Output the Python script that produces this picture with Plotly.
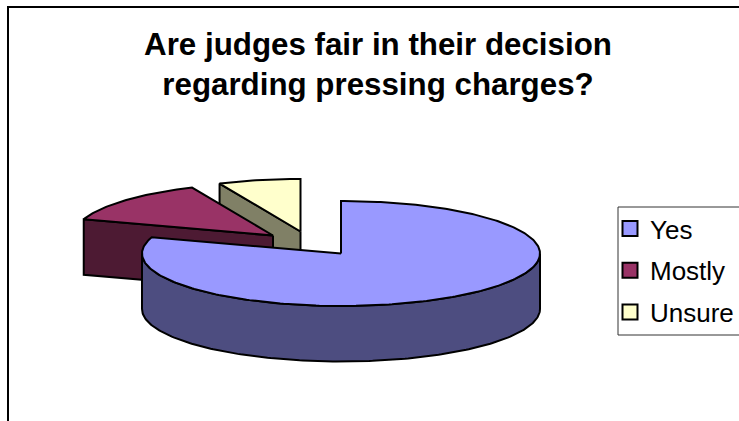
import numpy as np
import plotly.graph_objects as go

categories = ["Yes", "Mostly", "Unsure"]
values = [12, 2, 1]
title_text = "Are judges fair in their decision<br>regarding pressing charges?"

top_colors = ["#9999FF", "#993366", "#FFFFCC"]
side_colors = ["#4D4D80", "#4D1A33", "#808066"]
# wedge apex on the canvas for each exploded slice
apex = [(341, 253.5), (273, 235.5), (300.5, 231.5)]
RX, RY, DEPTH = 199, 52.5, 55.5

total = sum(values)
edges = np.cumsum([0] + values) / total * 2 * np.pi


def rim(cx, cy, t0, t1, dy=0):
    t = np.linspace(t0, t1, max(int(abs(t1 - t0) * 60), 2))
    return cx + RX * np.sin(t), cy - RY * np.cos(t) + dy


def poly(x, y, fill):
    return go.Scatter(
        x=list(x), y=list(y), mode="lines", fill="toself", fillcolor=fill,
        line=dict(color="black", width=2), hoverinfo="skip", showlegend=False,
    )


fig = go.Figure()

for i in [2, 1, 0]:
    cx, cy = apex[i]
    t0, t1 = edges[i], edges[i + 1]
    # side wall along the radial edge that closes the slice (faces the viewer)
    if i != 0:
        ex, ey = cx + RX * np.sin(t0), cy - RY * np.cos(t0)
        fig.add_trace(poly([cx, ex, ex, cx, cx], [cy, ey, ey + DEPTH, cy + DEPTH, cy], side_colors[i]))
    # outer wall for the part of the rim on the front half
    a0, a1 = max(t0, np.pi / 2), min(t1, 3 * np.pi / 2)
    if a1 > a0:
        ux, uy = rim(cx, cy, a0, a1)
        lx, ly = rim(cx, cy, a1, a0, DEPTH)
        fig.add_trace(poly(np.r_[ux, lx, ux[0]], np.r_[uy, ly, uy[0]], side_colors[i]))
    # top face
    rx, ry = rim(cx, cy, t0, t1)
    fig.add_trace(poly(np.r_[cx, rx, cx], np.r_[cy, ry, cy], top_colors[i]))

for name, color in zip(categories, top_colors):
    fig.add_trace(go.Scatter(
        x=[None], y=[None], mode="markers", name=name, legendgroup=name,
        marker=dict(symbol="square", size=15, color=color, line=dict(color="black", width=2)),
    ))

fig.update_layout(
    width=739, height=421,
    margin=dict(l=0, r=0, t=0, b=0, autoexpand=False),
    paper_bgcolor="white", plot_bgcolor="white",
    xaxis=dict(range=[0, 739], visible=False, fixedrange=True),
    yaxis=dict(range=[421, 0], visible=False, fixedrange=True),
    font=dict(family="Liberation Sans", color="black"),
    title=dict(
        text=title_text, x=378 / 739, xanchor="center", y=1 - 54.5 / 421, yanchor="top",
        font=dict(family="Liberation Sans", size=31.3, color="black", weight="bold"),
    ),
    legend=dict(
        x=610 / 739, xanchor="left", y=1 - 205 / 421, yanchor="top",
        borderwidth=0, bgcolor="rgba(0,0,0,0)",
        font=dict(size=26), tracegroupgap=5, itemwidth=30,
    ),
    shapes=[
        dict(type="path", path="M 8 421 L 8 7 L 739 7", xref="x", yref="y",
             line=dict(color="black", width=2)),
        dict(type="path", path="M 745 207 L 618 207 L 618 335 L 745 335", xref="x", yref="y",
             line=dict(color="#333333", width=1)),
    ],
)

fig.write_html("out.html", config={"displayModeBar": False},
               post_script="document.body.style.margin='0';")
